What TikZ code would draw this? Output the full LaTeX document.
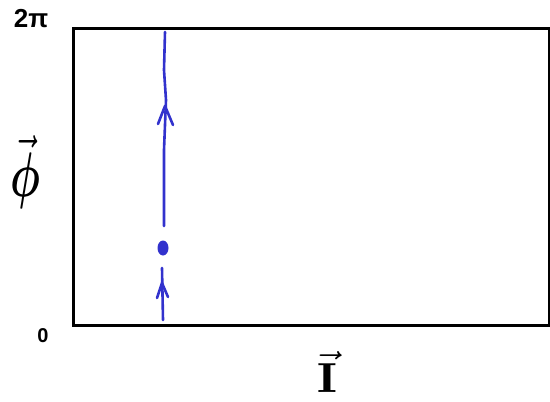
\documentclass[tikz,border=0pt]{standalone}
\usepackage{fontspec}
\usepackage{amsmath}
\usetikzlibrary{calc,shapes.geometric}
\newfontfamily\handfont{Liberation Sans}
\definecolor{penblue}{RGB}{50,50,205}
\begin{document}
\begin{tikzpicture}[x=1pt,y=-1pt,
  frame/.style={draw=black,line width=3pt},
  blueline/.style={draw=penblue,line width=2.6pt,line cap=round,line join=round},
  lbl/.style={inner sep=0pt,text=black}]
\useasboundingbox (0,0) rectangle (550,402);
\node[frame,minimum width=476pt,minimum height=297pt,inner sep=0pt,anchor=north west] (box) at (72,27) {};
\node[lbl,font=\handfont\bfseries\fontsize{26}{26}\selectfont] (top) at (31,19) {2π};
\node[lbl,font=\handfont\bfseries\fontsize{20}{20}\selectfont] (zero) at (43,336) {0};
\node[lbl] (phi) at (25,172) {\scalebox{4.2}[6.3]{$\vec{\boldsymbol{\phi}}$}};
\node[lbl] (cur) at (327,372) {\scalebox{5}[4.2]{$\vec{\mathbf{I}}$}};
\coordinate (l1a) at (163,320);
\coordinate (l1b) at (162,268);
\coordinate (l2a) at (164,226);
\coordinate (l2b) at (165,32);
\coordinate (t1) at (162,283);
\coordinate (t2) at (165,106);
\draw[blueline] (l1a) -- (l1b);
\draw[blueline] (l2a) -- (164,150) -- (166,100) -- (164,70) -- (l2b);
\draw[blueline] ($(t1)+(-5,15)$) -- (t1) -- ($(t1)+(6,14)$);
\draw[blueline] ($(t2)+(-7,18)$) -- (t2) -- ($(t2)+(8,19)$);
\node[fill=penblue,ellipse,minimum width=11pt,minimum height=15pt,inner sep=0pt] (dot) at (163,248) {};
\end{tikzpicture}
\end{document}
